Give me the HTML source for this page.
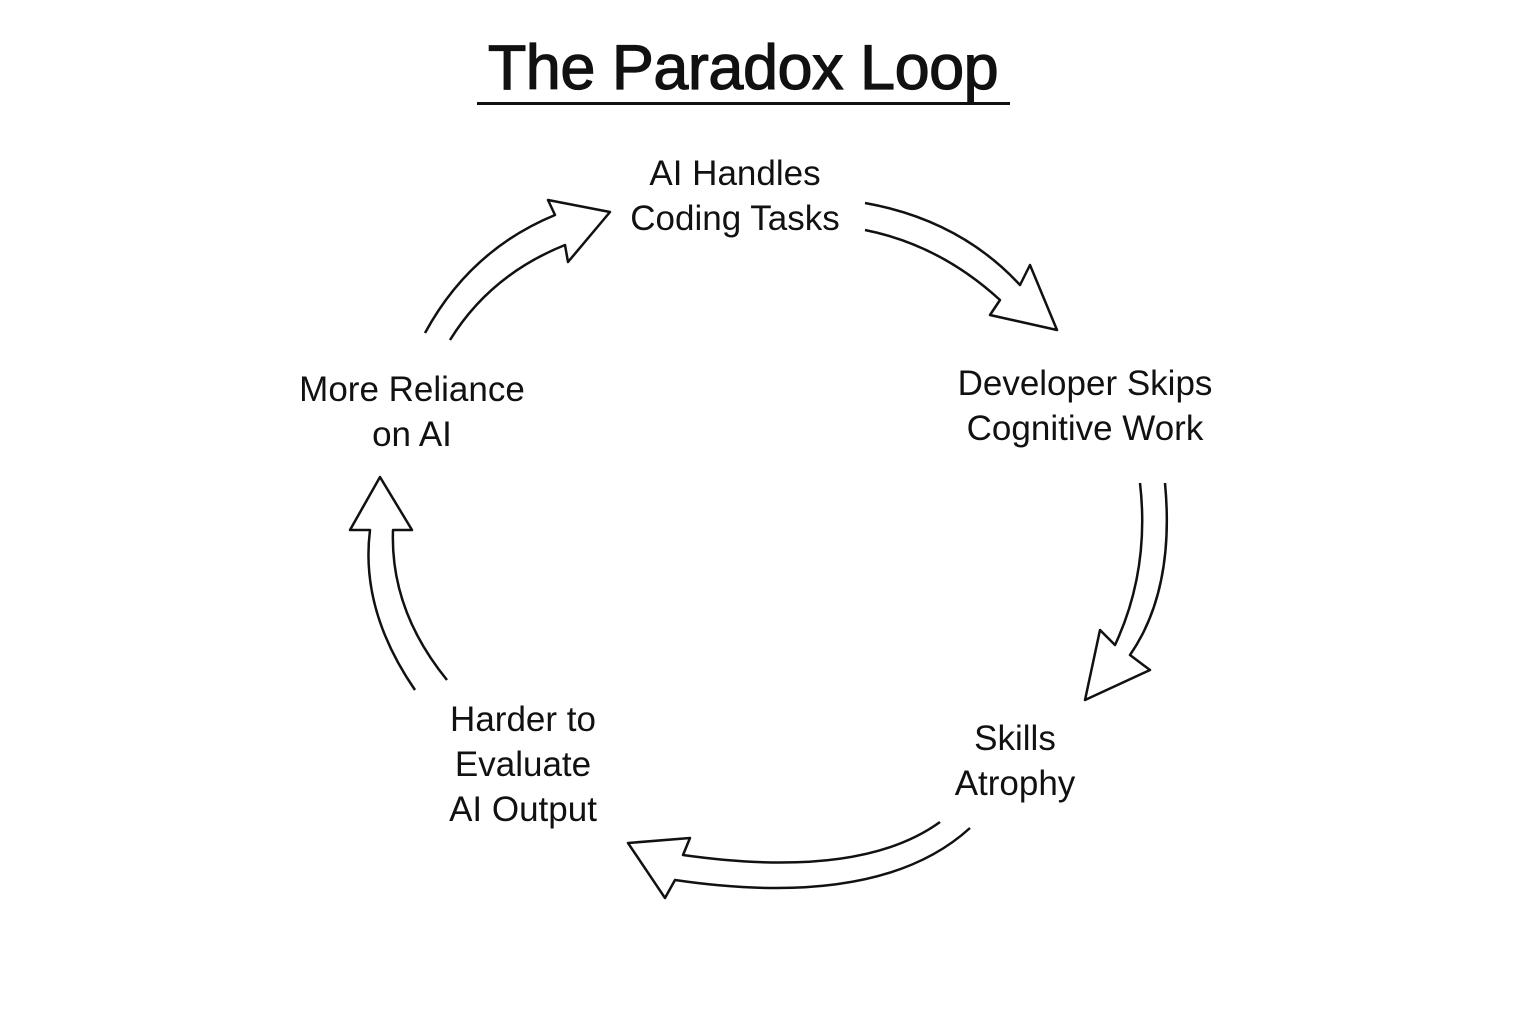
<!DOCTYPE html>
<html><head><meta charset="utf-8"><style>
html,body{margin:0;padding:0;background:#fff;}
body{width:1536px;height:1024px;position:relative;overflow:hidden;font-family:"Liberation Sans",sans-serif;color:#111;}
.t{position:absolute;text-align:center;font-size:35px;line-height:45px;white-space:nowrap;}
</style></head><body>
<div class="t" style="left:443px;top:28px;width:600px;font-size:63px;line-height:80px;-webkit-text-stroke:1.2px #111;letter-spacing:-0.5px;">The Paradox Loop</div>
<div style="position:absolute;left:477px;top:102px;width:533px;height:3px;background:#111"></div>
<div class="t" style="left:585px;top:151px;width:300px;">AI Handles<br>Coding Tasks</div>
<div class="t" style="left:935px;top:361px;width:300px;">Developer Skips<br>Cognitive Work</div>
<div class="t" style="left:865px;top:716px;width:300px;">Skills<br>Atrophy</div>
<div class="t" style="left:373px;top:697px;width:300px;">Harder to<br>Evaluate<br>AI Output</div>
<div class="t" style="left:262px;top:367px;width:300px;">More Reliance<br>on AI</div>
<svg width="1536" height="1024" style="position:absolute;left:0;top:0" fill="#fff" stroke="#111" stroke-width="2.5" stroke-linejoin="round">
<path d="M425,333 Q470,250 555,215 L548,200 L610,212 L568,262 L565,245 Q490,275 450,340"/>
<path d="M865,203 Q960,220 1020,285 L1030,265 L1057,330 L990,315 L1000,300 Q940,245 865,230"/>
<path d="M1165,483 Q1175,590 1130,655 L1150,670 L1085,700 L1100,630 L1115,645 Q1150,570 1140,483"/>
<path d="M970,828 Q880,910 675,880 L665,898 L628,843 L690,838 L683,855 Q860,880 940,822"/>
<path d="M415,690 Q360,610 370,530 L350,530 L380,477 L412,530 L393,530 Q390,610 447,680"/>
</svg>
</body></html>
